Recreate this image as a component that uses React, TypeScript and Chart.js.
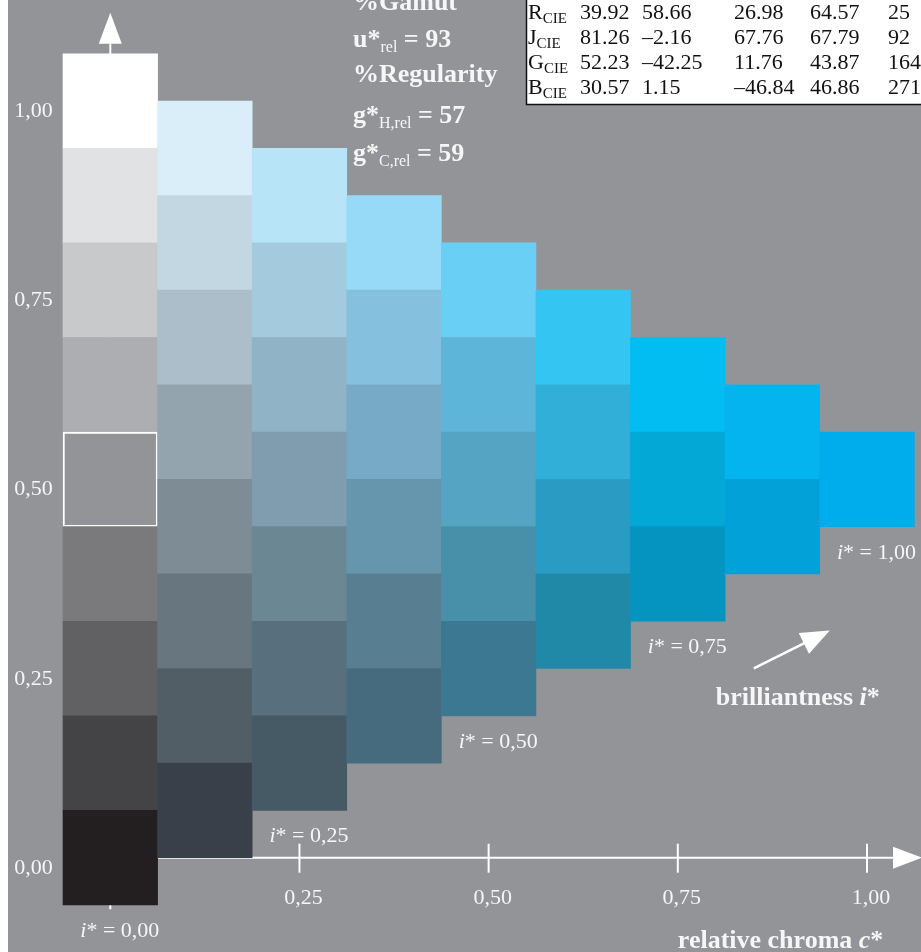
import React, { useEffect, useRef } from 'react';
import { Chart, registerables } from 'chart.js';

Chart.register(...registerables);

// ---------- data ----------
const relativeChroma = [0, 0.125, 0.25, 0.375, 0.5, 0.625, 0.75, 0.875, 1.0];
const columnBaseLightness = [0, 0.0625, 0.125, 0.1875, 0.25, 0.3125, 0.375, 0.4375, 0.5];
const lightnessStep = 0.125;

// colours of each column, bottom cell first
const column0 = ['#231f20', '#444446', '#616163', '#7a7a7d', '#939498', '#adaeb1', '#c8c9cb', '#e1e2e4', '#ffffff'];
const column1 = ['#394049', '#525e66', '#68767f', '#7e8c96', '#93a4ae', '#abbec9', '#c3d7e2', '#d9eef9'];
const column2 = ['#455a65', '#586f7d', '#6b8793', '#7f9daf', '#91b3c6', '#a3cadd', '#b8e4f8'];
const column3 = ['#466b7e', '#587f91', '#6696ae', '#77aac7', '#85c0de', '#96daf7'];
const column4 = ['#3c7892', '#4890a9', '#55a4c4', '#5eb5da', '#6acff5'];
const column5 = ['#2089a8', '#2a9cc3', '#32afd8', '#34c5f2'];
const column6 = ['#0494bf', '#03a8d7', '#02bdf2'];
const column7 = ['#02a2d8', '#03b4ee'];
const column8 = ['#00adec'];
const cellColors = [column0, column1, column2, column3, column4, column5, column6, column7, column8];

const highlightColumn = 0;
const highlightRow = 4;

const xTickValues = [0.25, 0.5, 0.75, 1.0];
const xTickLabels = ['0,25', '0,50', '0,75', '1,00'];
const yTickValues = [0, 0.25, 0.5, 0.75, 1.0];
const yTickLabels = ['0,00', '0,25', '0,50', '0,75', '1,00'];

const brillianceColumns = [0, 2, 4, 6, 8];
const brillianceLabels = ['0,00', '0,25', '0,50', '0,75', '1,00'];

const gamutValue = 93;
const hueRegularity = 57;
const chromaRegularity = 59;

const tableRowNames = ['R', 'J', 'G', 'B'];
const tableCol1 = [39.92, 81.26, 52.23, 30.57];
const tableCol2 = [58.66, -2.16, -42.25, 1.15];
const tableCol3 = [26.98, 67.76, 11.76, -46.84];
const tableCol4 = [64.57, 67.79, 43.87, 46.86];
const tableCol5 = [25, 92, 164, 271];

// ---------- styling ----------
const BG = '#939498';
const TXT = '#f6f6f6';
const FAM = '"Liberation Serif", "Times New Roman", serif';
const BOLD = `bold 26px ${FAM}`;
const SUB = `16px ${FAM}`;
const REG = `22px ${FAM}`;
const ITAL = `italic 22px ${FAM}`;
const BOLD_ITAL = `bold italic 26px ${FAM}`;
const TBL = `22px ${FAM}`;
const TBL_SUB = `15px ${FAM}`;

type Part = { text: string; font: string; dy?: number };
function drawRich(ctx: CanvasRenderingContext2D, x: number, y: number, parts: Part[]) {
  let cx = x;
  for (const p of parts) {
    ctx.font = p.font;
    ctx.fillText(p.text, cx, y + (p.dy || 0));
    cx += ctx.measureText(p.text).width;
  }
  return cx;
}

function fmt(v: number, digits: number) {
  const s = v.toFixed(digits);
  return s.replace('-', '\u2013');
}

function buildDatasets() {
  const maxRows = Math.max(...cellColors.map((c) => c.length));
  const datasets: any[] = [];
  for (let j = 0; j < maxRows; j++) {
    const data: any[] = [];
    const bg: string[] = [];
    const bc: string[] = [];
    const bw: number[] = [];
    cellColors.forEach((col, k) => {
      if (j < col.length) {
        const center = columnBaseLightness[k] + j * lightnessStep;
        data.push({ x: relativeChroma[k], y: [center - lightnessStep / 2, center + lightnessStep / 2] });
        bg.push(col[j]);
        const hl = k === highlightColumn && j === highlightRow;
        bc.push(hl ? '#ffffff' : col[j]);
        bw.push(hl ? 2 : 0);
      }
    });
    datasets.push({
      label: `row ${j}`,
      data,
      backgroundColor: bg,
      borderColor: bc,
      borderWidth: bw,
      borderSkipped: false,
      grouped: false,
      barPercentage: 1,
      categoryPercentage: 1,
    });
  }
  return datasets;
}

const decorPlugin = {
  id: 'decor',
  beforeDatasetsDraw(chart: any) {
    const ctx: CanvasRenderingContext2D = chart.ctx;
    const xs = chart.scales.x;
    const ys = chart.scales.y;
    const x0 = xs.getPixelForValue(0);
    const y0 = ys.getPixelForValue(0);
    ctx.save();
    ctx.strokeStyle = '#ffffff';
    ctx.fillStyle = '#ffffff';
    ctx.lineWidth = 2;
    // y axis line
    const yTop = ys.getPixelForValue(columnBaseLightness[0] + (column0.length - 1) * lightnessStep + lightnessStep / 2);
    ctx.beginPath();
    ctx.moveTo(x0, ys.getPixelForValue(-0.068));
    ctx.lineTo(x0, yTop - 10);
    ctx.stroke();
    // x axis line
    const xTip = xs.getPixelForValue(1.0) + 55;
    ctx.beginPath();
    ctx.moveTo(x0, y0);
    ctx.lineTo(xTip - 20, y0);
    ctx.stroke();
    // x ticks
    xTickValues.forEach((v) => {
      const px = xs.getPixelForValue(v);
      ctx.beginPath();
      ctx.moveTo(px, y0 - 14);
      ctx.lineTo(px, y0 + 15);
      ctx.stroke();
    });
    // x arrow head
    ctx.beginPath();
    ctx.moveTo(xTip, y0);
    ctx.lineTo(xTip - 29, y0 - 11);
    ctx.lineTo(xTip - 29, y0 + 11);
    ctx.closePath();
    ctx.fill();
    ctx.restore();
  },
  afterDatasetsDraw(chart: any) {
    const ctx: CanvasRenderingContext2D = chart.ctx;
    const xs = chart.scales.x;
    const ys = chart.scales.y;
    const x0 = xs.getPixelForValue(0);
    const y0 = ys.getPixelForValue(0);
    ctx.save();
    ctx.fillStyle = '#ffffff';
    // y arrow head
    const yTop = ys.getPixelForValue(columnBaseLightness[0] + (column0.length - 1) * lightnessStep + lightnessStep / 2);
    ctx.beginPath();
    ctx.moveTo(x0, yTop - 41);
    ctx.lineTo(x0 - 11.5, yTop - 10);
    ctx.lineTo(x0 + 11.5, yTop - 10);
    ctx.closePath();
    ctx.fill();

    ctx.fillStyle = TXT;
    ctx.textBaseline = 'alphabetic';
    // y tick labels
    ctx.font = REG;
    ctx.textAlign = 'left';
    yTickValues.forEach((v, i) => {
      ctx.fillText(yTickLabels[i], x0 - 96, ys.getPixelForValue(v) + 16);
    });
    // x tick labels
    ctx.textAlign = 'center';
    xTickValues.forEach((v, i) => {
      ctx.fillText(xTickLabels[i], xs.getPixelForValue(v) + 4, y0 + 46);
    });
    ctx.textAlign = 'left';
    // brilliantness labels
    brillianceColumns.forEach((k, i) => {
      const bottom = ys.getPixelForValue(columnBaseLightness[k] - lightnessStep / 2);
      drawRich(ctx, xs.getPixelForValue(relativeChroma[k]) - 30, bottom + 32, [
        { text: 'i', font: ITAL },
        { text: '* = ' + brillianceLabels[i], font: REG },
      ]);
    });
    // axis titles
    drawRich(ctx, xs.getPixelForValue(0.75), y0 + 90, [
      { text: 'relative chroma ', font: BOLD },
      { text: 'c', font: BOLD_ITAL },
      { text: '*', font: BOLD },
    ]);
    const bx = xs.getPixelForValue(0.75) + 38;
    const by = ys.getPixelForValue(0.2);
    drawRich(ctx, bx, by - 1, [
      { text: 'brilliantness ', font: BOLD },
      { text: 'i', font: BOLD_ITAL },
      { text: '*', font: BOLD },
    ]);
    // brilliantness arrow
    const ax1 = bx + 38, ay1 = by - 38;
    const ax2 = bx + 114, ay2 = by - 76;
    const dx = ax2 - ax1, dy = ay2 - ay1;
    const len = Math.hypot(dx, dy);
    const ux = dx / len, uy = dy / len;
    ctx.strokeStyle = '#ffffff';
    ctx.fillStyle = '#ffffff';
    ctx.lineWidth = 2.5;
    ctx.beginPath();
    ctx.moveTo(ax1, ay1);
    ctx.lineTo(ax2 - ux * 20, ay2 - uy * 20);
    ctx.stroke();
    const hb = 29, hw = 11.5;
    ctx.beginPath();
    ctx.moveTo(ax2, ay2);
    ctx.lineTo(ax2 - ux * hb - uy * hw, ay2 - uy * hb + ux * hw);
    ctx.lineTo(ax2 - ux * hb + uy * hw, ay2 - uy * hb - ux * hw);
    ctx.closePath();
    ctx.fill();

    // statistics text
    ctx.fillStyle = TXT;
    const sx = 345;
    drawRich(ctx, sx, 10, [{ text: '%Gamut', font: BOLD }]);
    drawRich(ctx, sx, 47, [
      { text: 'u*', font: BOLD },
      { text: 'rel', font: SUB, dy: 5 },
      { text: ' = ' + gamutValue, font: BOLD },
    ]);
    drawRich(ctx, sx, 82, [{ text: '%Regularity', font: BOLD }]);
    drawRich(ctx, sx, 123, [
      { text: 'g*', font: BOLD },
      { text: 'H,rel', font: SUB, dy: 5 },
      { text: ' = ' + hueRegularity, font: BOLD },
    ]);
    drawRich(ctx, sx, 161, [
      { text: 'g*', font: BOLD },
      { text: 'C,rel', font: SUB, dy: 5 },
      { text: ' = ' + chromaRegularity, font: BOLD },
    ]);

    // table
    const tl = 518.5;
    ctx.fillStyle = '#ffffff';
    ctx.fillRect(tl, -5, 420, 109.5);
    ctx.strokeStyle = '#111111';
    ctx.lineWidth = 1.5;
    ctx.strokeRect(tl, -5, 420, 109.5);
    ctx.fillStyle = '#111111';
    const colX = [572, 634, 726, 802, 880];
    tableRowNames.forEach((name, i) => {
      const ty = 18.5 + i * 25;
      drawRich(ctx, 520, ty, [
        { text: name, font: TBL },
        { text: 'CIE', font: TBL_SUB, dy: 4 },
      ]);
      ctx.font = TBL;
      ctx.fillText(fmt(tableCol1[i], 2), colX[0], ty);
      ctx.fillText(fmt(tableCol2[i], 2), colX[1], ty);
      ctx.fillText(fmt(tableCol3[i], 2), colX[2], ty);
      ctx.fillText(fmt(tableCol4[i], 2), colX[3], ty);
      ctx.fillText(fmt(tableCol5[i], 0), colX[4], ty);
    });
    ctx.restore();
  },
};

export default function App() {
  const ref = useRef<HTMLCanvasElement | null>(null);
  useEffect(() => {
    if (!ref.current) return;
    const chart = new Chart(ref.current, {
      type: 'bar',
      data: { datasets: buildDatasets() },
      options: {
        animation: false,
        responsive: false,
        maintainAspectRatio: false,
        layout: { padding: 0 },
        plugins: { legend: { display: false }, tooltip: { enabled: false } },
        scales: {
          x: {
            type: 'linear',
            min: -0.1352,
            max: 1.0714,
            offset: false,
            display: false,
            afterBuildTicks: (s: any) => {
              s.ticks = xTickValues.map((v) => ({ value: v }));
            },
          },
          y: {
            type: 'linear',
            min: -0.1246,
            max: 1.1335,
            display: false,
            afterBuildTicks: (s: any) => {
              s.ticks = yTickValues.map((v) => ({ value: v }));
            },
          },
        },
      } as any,
      plugins: [decorPlugin],
    });
    return () => chart.destroy();
  }, []);
  return (
    <div style={{ position: 'absolute', left: 8, top: 0, width: 913, height: 952, background: BG, overflow: 'hidden' }}>
      <canvas ref={ref} width={913} height={952} style={{ display: 'block', width: 913, height: 952 }} />
    </div>
  );
}
